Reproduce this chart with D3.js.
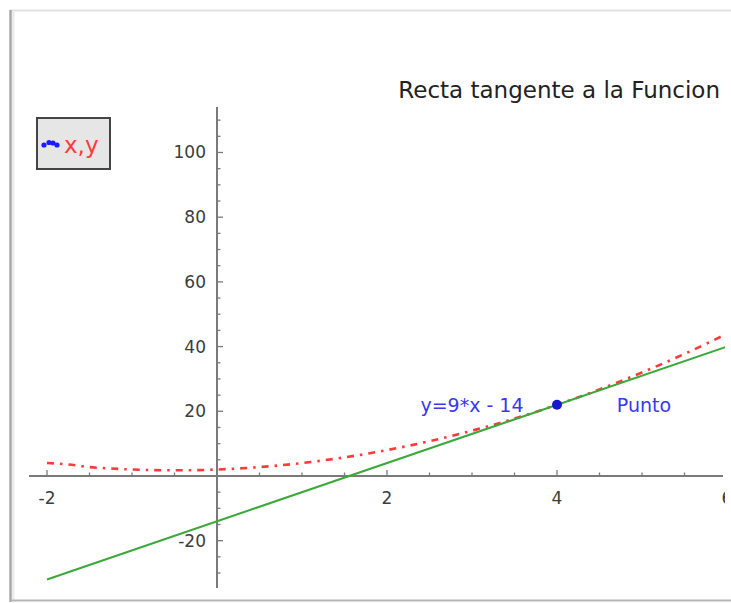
<!DOCTYPE html>
<html>
<head>
<meta charset="utf-8">
<script src="https://cdn.jsdelivr.net/npm/d3@7/dist/d3.min.js"></script>
<style>
html,body{margin:0;padding:0;background:#fff;}
svg{display:block;font-family:"DejaVu Sans",sans-serif;}
</style>
</head>
<body>
<svg id="chart" width="731" height="603"></svg>
<script>
// ---- data ----
const curveX = [-2,-1.75,-1.5,-1.25,-1,-0.75,-0.5,-0.25,0,0.25,0.5,0.75,1,1.25,1.5,1.75,2,2.25,2.5,2.75,3,3.25,3.5,3.75,4,4.25,4.5,4.75,5,5.25,5.5,5.75,6];
const curveY = [4,3.56,2.75,2.31,2,1.81,1.75,1.81,2,2.31,2.75,3.31,4,4.81,5.75,6.81,8,9.31,10.75,12.31,14,15.81,17.75,19.81,22,24.31,26.75,29.31,32,34.81,37.75,40.81,44];
const tangentX = [-2, 6];
const tangentY = [-32, 40];
const pointX = [4];
const pointY = [22];
const xTickLabels = [-2, 2, 4, 6];
const yTickLabels = [-20, 20, 40, 60, 80, 100];
const title = "Recta tangente a la Funcion";
const tangentLabel = "y=9*x - 14";
const pointLabel = "Punto";
const legendLabel = "x,y";

const svg = d3.select("#chart");

// frame
svg.append("line").attr("x1",10).attr("x2",731).attr("y1",10.5).attr("y2",10.5).attr("stroke","#e2e2e2").attr("stroke-width",2);
svg.append("line").attr("x1",13).attr("x2",13).attr("y1",11).attr("y2",601).attr("stroke","#ececec").attr("stroke-width",3);
svg.append("line").attr("x1",10.5).attr("x2",10.5).attr("y1",10).attr("y2",602).attr("stroke","#a8a8a8").attr("stroke-width",2.5);
svg.append("line").attr("x1",10).attr("x2",731).attr("y1",600.5).attr("y2",600.5).attr("stroke","#b5b5b5").attr("stroke-width",2);

const x = d3.scaleLinear().domain([-2, 6]).range([47, 727]);
const y = d3.scaleLinear().domain([-35, 114]).range([589.2, 107.2]);

const clip = svg.append("defs").append("clipPath").attr("id","c");
clip.append("rect").attr("x",12).attr("y",12).attr("width",713).attr("height",587);
const g = svg.append("g").attr("clip-path","url(#c)");

const axisColor = "#7a7a7a";

// x axis
g.append("line").attr("x1",29).attr("x2",723).attr("y1",y(0)).attr("y2",y(0)).attr("stroke",axisColor).attr("stroke-width",2);
// y axis
g.append("line").attr("x1",x(0)).attr("x2",x(0)).attr("y1",107).attr("y2",588).attr("stroke",axisColor).attr("stroke-width",2);

// x ticks
const xMinor = d3.range(-4, 13).map(d => d/2).filter(d => d !== 0 && d < 5.9);
g.selectAll(".xt").data(xMinor).enter().append("line")
  .attr("x1",d=>x(d)).attr("x2",d=>x(d))
  .attr("y1",d=>y(0) - (d%2===0 ? 6 : 3.5)).attr("y2",y(0))
  .attr("stroke",axisColor).attr("stroke-width",1.3);
// y ticks
const yMinor = d3.range(-30, 115, 5).filter(d => d !== 0);
g.selectAll(".yt").data(yMinor).enter().append("line")
  .attr("x1",x(0)).attr("x2",d=>x(0) + (d%20===0 ? 6 : 3.5))
  .attr("y1",d=>y(d)).attr("y2",d=>y(d))
  .attr("stroke",axisColor).attr("stroke-width",1.3);

// tick labels
g.selectAll(".xl").data(xTickLabels).enter().append("text")
  .attr("x",d=>x(d)).attr("y",y(0)+28)
  .attr("text-anchor","middle").attr("font-size",17).attr("fill","#3c3c3c")
  .text(d=>d);
svg.selectAll(".yl").data(yTickLabels).enter().append("text")
  .attr("x",x(0)-11).attr("y",d=>y(d)+6)
  .attr("text-anchor","end").attr("font-size",17).attr("fill","#3c3c3c")
  .text(d=>d);

// function curve
const pts = curveX.map((v,i)=>[v, curveY[i]]);
g.append("path").datum(pts)
  .attr("d", d3.line().x(d=>x(d[0])).y(d=>y(d[1])).curve(d3.curveMonotoneX))
  .attr("fill","none").attr("stroke","#ff3a3a").attr("stroke-width",2.6)
  .attr("stroke-dasharray","7,6,2.5,6").attr("stroke-linecap","butt");

// tangent line
const tp = tangentX.map((v,i)=>[v, tangentY[i]]);
g.append("path").datum(tp)
  .attr("d", d3.line().x(d=>x(d[0])).y(d=>y(d[1])))
  .attr("fill","none").attr("stroke","#3aa83a").attr("stroke-width",2);

// point
g.selectAll(".pt").data(pointX).enter().append("circle")
  .attr("cx",d=>x(d)).attr("cy",(d,i)=>y(pointY[i])).attr("r",5)
  .attr("fill","#1a1acc");

// annotations
svg.append("text").attr("x",472).attr("y",y(pointY[0])+7).attr("text-anchor","middle")
  .attr("font-size",19).attr("fill","#3838f0").text(tangentLabel);
svg.append("text").attr("x",644).attr("y",y(pointY[0])+7).attr("text-anchor","middle")
  .attr("font-size",19).attr("fill","#3838f0").text(pointLabel);

// title
svg.append("text").attr("x",720).attr("y",98).attr("text-anchor","end")
  .attr("font-size",23).attr("fill","#222").text(title);

// legend
svg.append("rect").attr("x",37).attr("y",118).attr("width",73).attr("height",51)
  .attr("fill","#e6e6e6").attr("stroke","#444").attr("stroke-width",2);
const lm = [[44,145],[49,142.5],[53,143],[57,145]];
svg.selectAll(".lm").data(lm).enter().append("circle")
  .attr("cx",d=>d[0]).attr("cy",d=>d[1]).attr("r",2.6).attr("fill","#1a1aff");
svg.append("text").attr("x",64).attr("y",153).attr("font-size",23).attr("fill","#ff3a3a").text(legendLabel);
</script>
</body>
</html>
